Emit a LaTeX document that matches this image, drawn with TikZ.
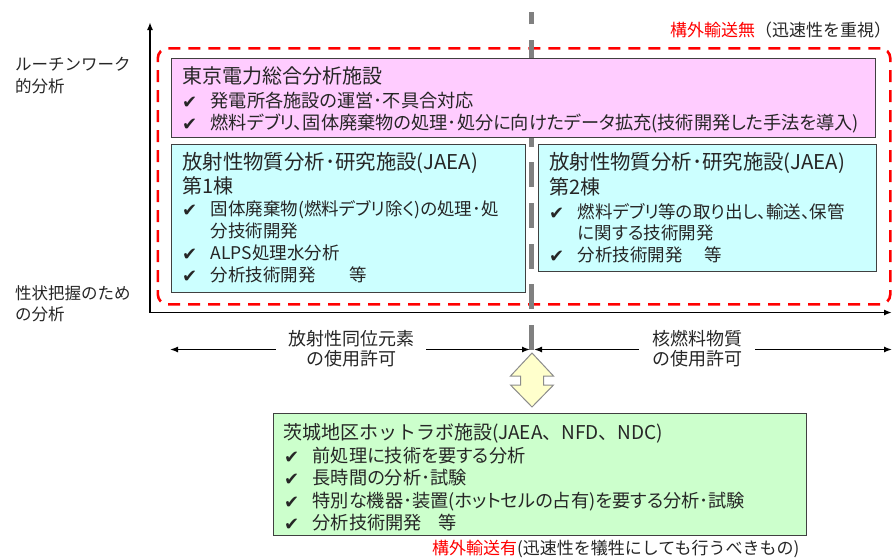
\documentclass[tikz,border=0pt]{standalone}
\usepackage{fontspec}
\setmainfont{Noto Sans CJK JP}
\newfontfamily\pj{Noto Sans CJK JP}[RawFeature=+palt]
\newfontfamily\dv{DejaVu Sans}
\usetikzlibrary{arrows.meta}
\definecolor{pinkc}{HTML}{FFCCFF}
\definecolor{cyanc}{HTML}{CCFFFF}
\definecolor{greenc}{HTML}{CCFFCC}
\definecolor{yellowc}{HTML}{FFFFCC}
\definecolor{redc}{HTML}{FF0000}
\definecolor{txtc}{HTML}{262626}
\newcommand{\fs}[1]{\fontsize{#1}{#1}\selectfont}
\newcommand{\ck}{\makebox[28.5pt][l]{\raisebox{-1pt}{\dv\fs{18}✔}}}
\begin{document}
\begin{tikzpicture}[x=1pt,y=-1pt,
  ln/.style={anchor=base west, inner sep=0pt, text=txtc, font=\fs{17}},
  pb/.style={anchor=base west, inner sep=0pt, text=txtc, font=\pj\fs{18.2}},
  cb/.style={anchor=base west, inner sep=0pt, text=txtc, font=\pj\fs{17.5}},
  tl/.style={anchor=base west, inner sep=0pt, text=txtc, font=\pj\fs{20}},
  boxst/.style={draw=black!75, line width=1.3pt, anchor=north west, inner sep=0pt},
  ax/.style={line width=1.6pt, -{Latex[length=8pt,width=6pt]}},
  dax/.style={line width=1.4pt, {Latex[length=8pt,width=6pt]}-{Latex[length=8pt,width=6pt]}},
  arrlab/.style={anchor=center, fill=white, inner ysep=1pt, align=center, text=txtc, font=\fontsize{18}{20}\selectfont},
]
\useasboundingbox (0,0) rectangle (893,557);

% axes
\coordinate (O) at (150,312.5);
\coordinate (ytip) at (150,22);
\coordinate (xtip) at (892,312.5);
\draw[ax] (O) -- (ytip);
\draw[ax] (O) -- (xtip);

% red dashed region
\node[draw=redc, line width=2.6pt, dash pattern=on 12pt off 8pt, rounded corners=10pt,
      minimum width=732.5pt, minimum height=256pt, anchor=north west, inner sep=0pt] (nohaul) at (156.5,47) {};

% gray dashed divider
\coordinate (gtop) at (531.5,12);
\coordinate (gbot) at (531.5,350);
\draw[black!50, line width=5pt, dash pattern=on 25pt off 15.7pt] (gbot) -- (gtop);

% boxes
\node[boxst, fill=pinkc, minimum width=704.5pt, minimum height=79.2pt] (tepco) at (170.5,57.5) {};
\node[boxst, fill=cyanc, minimum width=354pt, minimum height=148pt] (jaea1) at (170.5,144) {};
\node[boxst, fill=cyanc, minimum width=338pt, minimum height=126.5pt] (jaea2) at (538,144) {};
\node[boxst, fill=greenc, minimum width=533pt, minimum height=122.5pt] (ibaraki) at (272.5,412.5) {};

% pink text
\node[tl] (t0) at (182,83.6) {東京電力総合分析施設};
\node[pb] (t1) at (182,107) {\ck 発電所各施設の運営･不具合対応};
\node[pb] (t2) at (182,129) {\ck 燃料デブリ、固体廃棄物の処理･処分に向けたデータ拡充(技術開発した手法を導入)};

% cyan 1 text
\node[tl, font=\pj\fs{20.4}] (a0) at (182,169.5) {放射性物質分析･研究施設(JAEA)};
\node[tl] (a1) at (182,193.5) {第1棟};
\node[cb] (a2) at (182,215.7) {\ck 固体廃棄物(燃料デブリ除く)の処理･処};
\node[cb] (a3) at (210.5,237) {分技術開発};
\node[cb] (a4) at (182,259.8) {\ck ALPS処理水分析};
\node[cb] (a5) at (182,281.7) {\ck 分析技術開発\hspace{34pt}等};

% cyan 2 text
\node[tl, font=\pj\fs{20.4}] (b0) at (549,169.5) {放射性物質分析･研究施設(JAEA)};
\node[tl] (b1) at (549,194.5) {第2棟};
\node[cb] (b2) at (549,218.5) {\ck 燃料デブリ等の取り出し、輸送、保管};
\node[cb] (b3) at (577.5,239.5) {に関する技術開発};
\node[cb] (b4) at (549,261.5) {\ck 分析技術開発\hspace{22pt}等};

% green text
\node[tl, font=\fs{19}] (c0) at (283,439) {茨城地区ホットラボ施設(JAEA、NFD、NDC)};
\node[pb] (c1) at (284,462) {\ck 前処理に技術を要する分析};
\node[pb] (c2) at (284,484.5) {\ck 長時間の分析･試験};
\node[pb] (c3) at (284,507) {\ck 特別な機器･装置(ホットセルの占有)を要する分析･試験};
\node[pb] (c4) at (284,529) {\ck 分析技術開発\hspace{17pt}等};

% left labels
\node[ln, font=\fs{16.5}] (l1) at (15,70.5) {ルーチンワーク};
\node[ln, font=\fs{16.5}] (l2) at (15,92.5) {的分析};
\node[ln, font=\fs{16.5}] (l3) at (15,299.5) {性状把握のため};
\node[ln, font=\fs{16.5}] (l4) at (15,320.5) {の分析};

% top / bottom notes
\node[ln] (nt) at (670,36.5) {\textcolor{redc}{構外輸送無}（迅速性を重視）};
\node[ln] (nb) at (432,554.5) {\textcolor{redc}{構外輸送有}(迅速性を犠牲にしても行うべきもの)};

% permit arrows
\coordinate (pl1) at (170,349.5);
\coordinate (pl2) at (530,349.5);
\coordinate (pr1) at (534,349.5);
\coordinate (pr2) at (892,349.5);
\draw[dax] (pl1) -- (pl2);
\draw[dax] (pr1) -- (pr2);
\node[arrlab, inner xsep=12pt] (ri) at (351,349) {放射性同位元素\\の使用許可};
\node[arrlab, inner xsep=13pt] (nf) at (697,349) {核燃料物質\\の使用許可};

% yellow double block arrow
\draw[fill=yellowc, draw=black!45, line width=1pt]
  (532,353) -- (553.5,376) -- (543.5,376) -- (543.5,385) -- (553.5,385) -- (532,407)
  -- (510.5,385) -- (520.5,385) -- (520.5,376) -- (510.5,376) -- cycle;
\end{tikzpicture}
\end{document}
